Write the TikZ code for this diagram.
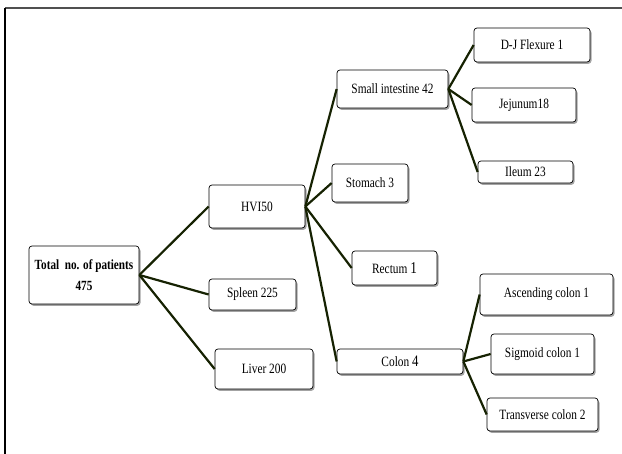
\documentclass[tikz,border=0pt]{standalone}
\usepackage{fontspec}
\setmainfont{Liberation Serif}[FakeStretch=0.8]
\usetikzlibrary{shadows}
\definecolor{linkc}{RGB}{22,34,2}
\definecolor{framec}{RGB}{80,80,80}
\tikzset{
  box/.style={draw=black, line width=0.7pt, rounded corners=3pt, fill=white,
    drop shadow={shadow xshift=1.5pt, shadow yshift=-1.8pt, fill=black!45, opacity=0.8},
    font=\fontsize{14.2}{16}\selectfont, align=center, inner sep=1pt},
  link/.style={draw=linkc, line width=2.2pt}
}
\begin{document}
\begin{tikzpicture}[x=1pt,y=-1pt]
\useasboundingbox (0,0) rectangle (622,454);
\draw[framec, line width=1.6pt] (5,8) -- (622,8);
\draw[black, line width=1.4pt] (5,8) -- (5,454);
\node[box, minimum width=110pt, minimum height=58pt, font=\fontsize{14}{21}\selectfont\bfseries] (total) at (84,275) {Total\ \ no. of patients\\475};
\node[box, minimum width=96pt, minimum height=43pt] (hvi) at (257,206.5) {HVI50};
\node[box, minimum width=87pt, minimum height=31pt] (spleen) at (252.5,294.5) {Spleen 225};
\node[box, minimum width=98pt, minimum height=40pt] (liver) at (264,369) {Liver 200};
\node[box, minimum width=111pt, minimum height=38pt] (small) at (392.5,89) {Small intestine 42};
\node[box, minimum width=116pt, minimum height=34pt] (dj) at (532,45) {D-J Flexure 1};
\node[box, minimum width=104pt, minimum height=34pt] (jej) at (524,105) {Jejunum18};
\node[box, minimum width=95pt, minimum height=22pt] (ileum) at (525.5,172) {Ileum 23};
\node[box, minimum width=76pt, minimum height=38pt] (stomach) at (370,183) {Stomach 3};
\node[box, minimum width=85pt, minimum height=34pt] (rectum) at (394.5,268) {Rectum {\fontsize{16.5}{16}\selectfont 1}};
\node[box, minimum width=126pt, minimum height=25pt] (colon) at (400,361.5) {Colon {\fontsize{16}{16}\selectfont 4}};
\node[box, minimum width=133pt, minimum height=41pt] (asc) at (546.5,294.5) {Ascending colon 1};
\node[box, minimum width=103pt, minimum height=40pt] (sig) at (542.5,354) {Sigmoid colon 1};
\node[box, minimum width=111pt, minimum height=33pt] (trans) at (542.5,414.5) {Transverse colon 2};
\draw[link] (total.east) -- (hvi.west);
\draw[link] (total.east) -- (spleen.west);
\draw[link] (total.east) -- (liver.west);
\draw[link] (hvi.east) -- (small.west);
\draw[link] (hvi.east) -- (stomach.west);
\draw[link] (hvi.east) -- (rectum.west);
\draw[link] (hvi.east) -- (colon.west);
\draw[link] (small.east) -- (dj.west);
\draw[link] (small.east) -- (jej.west);
\draw[link] (small.east) -- (ileum.west);
\draw[link] (colon.east) -- (asc.west);
\draw[link] (colon.east) -- (sig.west);
\draw[link] (colon.east) -- (trans.west);
\end{tikzpicture}
\end{document}
